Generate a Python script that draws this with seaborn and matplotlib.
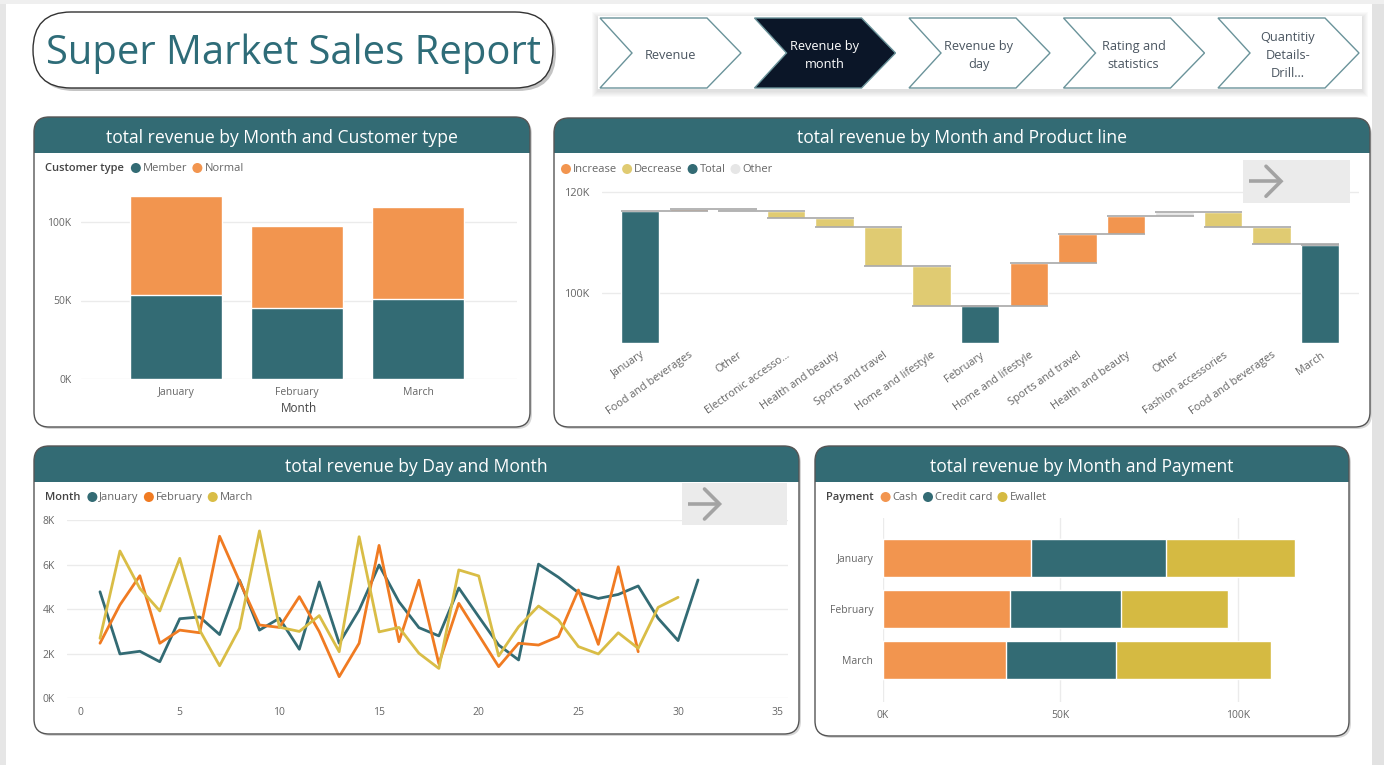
import matplotlib
matplotlib.use("Agg")
import matplotlib.pyplot as plt
import numpy as np
import pandas as pd
import seaborn as sns
from matplotlib.patches import FancyBboxPatch, Rectangle, Polygon, Circle
from matplotlib.ticker import FuncFormatter

sns.set_theme(style="white")
plt.rcParams["font.family"] = ["Open Sans", "DejaVu Sans"]

# ---------------- data ----------------
months = ["January", "February", "March"]
member_revenue = [53700, 45400, 51100]
normal_revenue = [62600, 51800, 58300]

wf_labels = ["January", "Food and beverages", "Other", "Electronic accesso...",
             "Health and beauty", "Sports and travel", "Home and lifestyle",
             "February", "Home and lifestyle", "Sports and travel",
             "Health and beauty", "Other", "Fashion accessories",
             "Food and beverages", "March"]
wf_kinds = ["Total", "Increase", "Other", "Decrease", "Decrease", "Decrease",
            "Decrease", "Total", "Increase", "Increase", "Increase", "Other",
            "Decrease", "Decrease", "Total"]
wf_values = [116300, 400, -350, -1400, -1800, -7850, -7900,
             97400, 8500, 5800, 3600, 800, -3000, -3450, 109600]

payment_types = ["Cash", "Credit card", "Ewallet"]
cash_revenue = [41700, 35700, 34600]
credit_revenue = [38200, 31300, 31200]
ewallet_revenue = [36300, 30200, 43500]

jan_daily = [4780, 1990, 2110, 1640, 3570, 3650, 2860, 5300, 3060, 3590, 2200,
             5220, 2470, 3960, 5980, 4330, 3170, 2800, 4950, 3660, 2390, 1720,
             6020, 5430, 4740, 4480, 4660, 5040, 3590, 2590, 5310]
feb_daily = [2470, 4190, 5500, 2470, 3060, 2940, 7270, 5250, 3290, 3180, 4560,
             2990, 970, 2470, 6860, 2540, 5300, 1550, 4260, 2840, 1420, 2470,
             2390, 2770, 4860, 2420, 5900, 2090]
mar_daily = [2690, 6610, 4930, 3920, 6280, 3060, 1460, 3140, 7510, 3190, 3000,
             3710, 2090, 7250, 2980, 3180, 2020, 1340, 5760, 5490, 1900, 3210,
             4140, 3510, 2320, 1990, 2940, 2240, 4080, 4530]

nav_labels = ["Revenue", "Revenue by\nmonth", "Revenue by\nday",
              "Rating and\nstatistics", "Quantitiy\nDetails-\nDrill..."]

# ---------------- styles ----------------
TEAL = "#336B74"
ORANGE = "#F2954F"
DEC = "#E0CB72"
EWALLET = "#D5BA42"
LORANGE = "#F07B22"
LYEL = "#D9BD46"
OTHER = "#E6E6E6"
GRID = "#EBEBEB"
TICK = "#666666"
LEGT = "#444444"

W, H = 1384, 765
fig = plt.figure(figsize=(W / 100, H / 100), dpi=100)
fig.patch.set_facecolor("white")
bg = fig.add_axes([0, 0, 1, 1])
bg.set_xlim(0, W); bg.set_ylim(H, 0); bg.axis("off"); bg.set_zorder(0)
fg = fig.add_axes([0, 0, 1, 1])
fg.set_xlim(0, W); fg.set_ylim(H, 0); fg.axis("off"); fg.set_zorder(5)
fg.patch.set_alpha(0)
renderer = fig.canvas.get_renderer()


def px_axes(l, t, r, b):
    ax = fig.add_axes([l / W, 1 - b / H, (r - l) / W, (b - t) / H])
    ax.patch.set_alpha(0)
    ax.set_zorder(3)
    for s in ax.spines.values():
        s.set_visible(False)
    return ax


kfmt = FuncFormatter(lambda v, p: f"{v / 1000:.0f}K")

# page borders
bg.add_patch(Rectangle((0, 0), 6, H, fc="#E6E6E6", ec="none"))
bg.add_patch(Rectangle((1372, 0), W - 1372, H, fc="#E2E2E2", ec="none"))
bg.add_patch(Rectangle((0, 0), W, 4, fc="#EFEFEF", ec="none"))

# title pill
bg.add_patch(FancyBboxPatch((36, 15), 520, 76, boxstyle="round,pad=0,rounding_size=38",
                            fc="#C4C4C4", ec="none", zorder=1))
bg.add_patch(FancyBboxPatch((33, 12), 520, 76, boxstyle="round,pad=0,rounding_size=38",
                            fc="white", ec="#333333", lw=1.0, zorder=2))
tt = bg.text(293, 54, "Super Market Sales Report", fontsize=36, color="#2E6C78",
             ha="center", va="center", zorder=3)
wt = tt.get_window_extent(renderer).width
tt.set_fontsize(min(38, 36 * 496 / wt))

# nav bar
for k in range(1, 7):
    bg.add_patch(Rectangle((598 - k, 16 - k + 2), 764 + 2 * k, 73 + 2 * k,
                           fc="#000000", alpha=0.018, ec="none", zorder=1))
bg.add_patch(Rectangle((598, 16), 764, 73, fc="white", ec="none", zorder=2))
for i, lab in enumerate(nav_labels):
    x0 = 600 + i * 154.5
    pts = [(x0, 18), (x0 + 107, 18), (x0 + 141, 53), (x0 + 107, 88), (x0, 88), (x0 + 32, 53)]
    active = (i == 1)
    bg.add_patch(Polygon(pts, closed=True, fc="#0B1628" if active else "white",
                         ec="#6A939A", lw=1.0, zorder=3))
    bg.text(x0 + 70, 55, lab, fontsize=9.2, color="white" if active else "#4A5560",
            ha="center", va="center", linespacing=1.5, zorder=4)


# cards
def card(x0, y0, x1, y1, hb, title, fs):
    bg.add_patch(FancyBboxPatch((x0 + 2, y0 + 2), x1 - x0, y1 - y0,
                                boxstyle="round,pad=0,rounding_size=15",
                                fc="#D6D6D6", ec="none", zorder=1))
    p = FancyBboxPatch((x0, y0), x1 - x0, y1 - y0, boxstyle="round,pad=0,rounding_size=15",
                       fc="white", ec="none", zorder=2)
    bg.add_patch(p)
    hdr = Rectangle((x0, y0), x1 - x0, hb - y0, fc=TEAL, ec="none", zorder=2.5)
    bg.add_patch(hdr)
    hdr.set_clip_path(p)
    bg.add_patch(FancyBboxPatch((x0, y0), x1 - x0, y1 - y0, boxstyle="round,pad=0,rounding_size=15",
                                fc="none", ec="#555555", lw=1.0, zorder=2.8))
    bg.text((x0 + x1) / 2, (y0 + hb) / 2 + 2.5, title, color="white", fontsize=fs,
            ha="center", va="center", zorder=4)


t0 = bg.text(0, 0, "total revenue by Month and Customer type", fontsize=12)
hfs = 12 * 351 / t0.get_window_extent(renderer).width
t0.remove()

card(34, 117, 530, 427, 153, "total revenue by Month and Customer type", hfs)
card(554, 118, 1370, 427, 153, "total revenue by Month and Product line", hfs)
card(34, 446, 799, 734, 482, "total revenue by Day and Month", hfs)
card(815, 446, 1349, 736, 482, "total revenue by Month and Payment", hfs)


def legend(x, y, title, items):
    cur = x
    if title:
        t = fg.text(cur, y, title, fontsize=8, color=LEGT, fontweight="semibold",
                    ha="left", va="center")
        cur += t.get_window_extent(renderer).width + 12
    else:
        cur += 5
    for lab, col in items:
        fg.add_patch(Circle((cur, y), 5, fc=col, ec="none"))
        t = fg.text(cur + 7, y, lab, fontsize=8, color=TICK, ha="left", va="center")
        cur = cur + 7 + t.get_window_extent(renderer).width + 10


def style_ticks(ax, pad_x, pad_y, size=7.5):
    ax.tick_params(axis="both", length=0, labelsize=size, labelcolor=TICK)
    ax.tick_params(axis="x", pad=pad_x)
    ax.tick_params(axis="y", pad=pad_y)
    ax.set_xlabel(""); ax.set_ylabel("")
    ax.set_axisbelow(True)


# ---- chart 1: stacked columns by customer type ----
ax1 = px_axes(81, 190.6, 517, 379)
total1 = [m + n for m, n in zip(member_revenue, normal_revenue)]
df1 = pd.DataFrame({"Month": months, "Total": total1, "Member": member_revenue})
sns.barplot(data=df1, x="Month", y="Total", color=ORANGE, width=0.76, errorbar=None,
            saturation=1, ax=ax1)
sns.barplot(data=df1, x="Month", y="Member", color=TEAL, width=0.76, errorbar=None,
            saturation=1, ax=ax1)
ax1.set_xlim(-0.785, 2.815)
ax1.set_ylim(0, 120000)
ax1.set_yticks([0, 50000, 100000])
ax1.yaxis.set_major_formatter(kfmt)
ax1.grid(axis="y", color=GRID, lw=1)
style_ticks(ax1, 6, 7)
fg.text(299, 408, "Month", fontsize=8.5, color=LEGT, ha="center", va="center")
legend(45, 168, "Customer type", [("Member", TEAL), ("Normal", ORANGE)])

# ---- chart 2: waterfall ----
ax2 = px_axes(601.7, 185, 1359, 342.7)
ymin = 90200
bottoms, heights, cols, levels = [], [], [], []
cmap = {"Total": TEAL, "Increase": ORANGE, "Decrease": DEC, "Other": OTHER}
level = 0
for v, k in zip(wf_values, wf_kinds):
    if k == "Total":
        bottoms.append(ymin); heights.append(v - ymin); level = v
    else:
        bottoms.append(level if v >= 0 else level + v); heights.append(abs(v)); level += v
    levels.append(level)
    cols.append(cmap[k])
xs = np.arange(len(wf_labels))
bw = 0.79
ax2.bar(xs, heights, bottom=bottoms, width=bw, color=cols, zorder=2)
for i in range(len(xs) - 1):
    ax2.hlines(levels[i], xs[i] - bw / 2, xs[i + 1] + bw / 2, color="#A8A8A8", lw=1.2, zorder=3)
ax2.hlines(levels[-1], xs[-1] - bw / 2, xs[-1] + bw / 2, color="#A8A8A8", lw=1.2, zorder=3)
ax2.set_xlim(-0.795, 14.8)
ax2.set_ylim(ymin, 121400)
ax2.set_yticks([100000, 120000])
ax2.yaxis.set_major_formatter(kfmt)
ax2.grid(axis="y", color=GRID, lw=1)
ax2.set_xticks(xs)
ax2.set_xticklabels(wf_labels, rotation=35, ha="right", rotation_mode="anchor")
style_ticks(ax2, 5, 8, size=7.8)
legend(561, 169, None, [("Increase", ORANGE), ("Decrease", DEC), ("Total", TEAL), ("Other", OTHER)])

# ---- chart 3: daily lines ----
ax3 = px_axes(67.3, 520, 787.7, 698.3)
df3 = pd.concat([pd.DataFrame({"Day": np.arange(1, len(v) + 1), "Revenue": v, "Month": m})
                 for m, v in zip(months, [jan_daily, feb_daily, mar_daily])], ignore_index=True)
sns.lineplot(data=df3, x="Day", y="Revenue", hue="Month", hue_order=months,
             palette=[TEAL, LORANGE, LYEL], lw=2, estimator=None, legend=False, ax=ax3)
ax3.set_xlim(-0.64, 35.5)
ax3.set_ylim(0, 8000)
ax3.set_xticks(range(0, 36, 5))
ax3.set_yticks(range(0, 8001, 2000))
ax3.yaxis.set_major_formatter(kfmt)
ax3.grid(axis="y", color=GRID, lw=1)
style_ticks(ax3, 6, 9)
legend(45, 497, "Month", [("January", TEAL), ("February", LORANGE), ("March", LYEL)])

# ---- chart 4: stacked horizontal bars by payment ----
ax4 = px_axes(883, 518, 1340, 702)
cc = [a + b for a, b in zip(cash_revenue, credit_revenue)]
tot4 = [a + b for a, b in zip(cc, ewallet_revenue)]
df4 = pd.DataFrame({"Month": months, "Cash": cash_revenue, "CashCredit": cc, "Total": tot4})
for col, c in [("Total", EWALLET), ("CashCredit", TEAL), ("Cash", ORANGE)]:
    sns.barplot(data=df4, y="Month", x=col, color=c, orient="h", width=0.754,
                errorbar=None, saturation=1, ax=ax4)
ax4.set_xlim(0, 128800)
ax4.set_ylim(2.83, -0.79)
ax4.set_xticks([0, 50000, 100000])
ax4.xaxis.set_major_formatter(kfmt)
ax4.grid(axis="x", color=GRID, lw=1)
style_ticks(ax4, 6, 7)
legend(826, 497, "Payment", [(payment_types[0], ORANGE), (payment_types[1], TEAL),
                             (payment_types[2], EWALLET)])


# arrow buttons
def arrow_button(x0, y0, x1, y1):
    fg.add_patch(Rectangle((x0, y0), x1 - x0, y1 - y0, fc="#EBEBEB", ec="none"))
    cy = (y0 + y1) / 2
    fg.plot([x0 + 6, x0 + 38], [cy, cy], color="#A3A3A3", lw=2.6, solid_capstyle="butt")
    fg.plot([x0 + 23, x0 + 38, x0 + 23], [cy - 15, cy, cy + 15], color="#A3A3A3", lw=2.6,
            solid_joinstyle="miter")


arrow_button(1243, 160, 1350, 202.5)
arrow_button(681.5, 483, 787, 525)

fig.savefig("out.png", dpi=100, facecolor="white")
